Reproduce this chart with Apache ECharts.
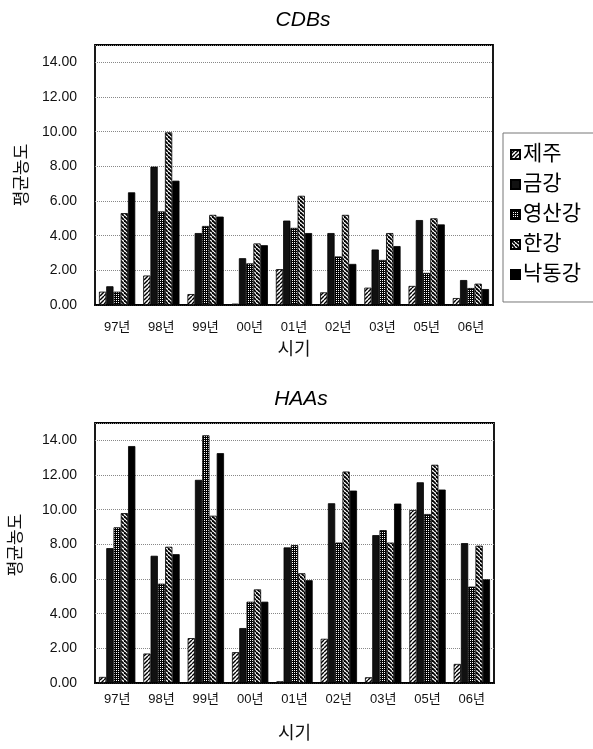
<!DOCTYPE html>
<html>
<head>
<meta charset="utf-8">
<script src="https://cdn.jsdelivr.net/npm/echarts@6/dist/echarts.min.js"></script>
<style>
html,body{margin:0;padding:0;background:#fff;}
#c{width:593px;height:749px;}
</style>
</head>
<body>
<div id="c"></div>
<script>
const categories = ['97년','98년','99년','00년','01년','02년','03년','05년','06년'];
const seriesNames = ['제주','금강','영산강','한강','낙동강'];
const yTicks = [0, 2, 4, 6, 8, 10, 12, 14];

const cdbJeju     = [0.77, 1.70, 0.63, 0.08, 2.07, 0.73, 1.00, 1.10, 0.40];
const cdbGeum     = [1.08, 7.98, 4.15, 2.70, 4.87, 4.15, 3.20, 4.90, 1.44];
const cdbYeongsan = [0.77, 5.40, 4.56, 2.40, 4.45, 2.80, 2.60, 1.85, 0.98];
const cdbHan      = [5.30, 9.96, 5.20, 3.55, 6.30, 5.20, 4.15, 5.00, 1.23];
const cdbNakdong  = [6.50, 7.17, 5.10, 3.45, 4.15, 2.37, 3.40, 4.65, 0.92];

const haaJeju     = [0.35, 1.70, 2.59, 1.78, 0.10, 2.55, 0.33, 9.98, 1.10];
const haaGeum     = [7.78, 7.34, 11.72, 3.17, 7.82, 10.37, 8.53, 11.58, 8.07];
const haaYeongsan = [8.98, 5.73, 14.29, 4.69, 7.95, 8.10, 8.82, 9.75, 5.56];
const haaHan      = [9.80, 7.86, 9.65, 5.40, 6.33, 12.20, 8.10, 12.59, 7.92];
const haaNakdong  = [13.67, 7.43, 13.26, 4.69, 5.93, 11.10, 10.35, 11.16, 5.98];

function mk(w, h, draw) {
  const c = document.createElement('canvas');
  c.width = w; c.height = h;
  const g = c.getContext('2d');
  draw(g);
  return { image: c, repeat: 'repeat' };
}
const patFwd = mk(4, 4, g => {
  g.fillStyle = '#fff'; g.fillRect(0, 0, 4, 4);
  g.strokeStyle = '#000'; g.lineWidth = 1.4;
  [-4, 0, 4].forEach(o => { g.beginPath(); g.moveTo(o, 4); g.lineTo(o + 4, 0); g.stroke(); });
});
const patBack = mk(4, 4, g => {
  g.fillStyle = '#fff'; g.fillRect(0, 0, 4, 4);
  g.strokeStyle = '#000'; g.lineWidth = 1.8;
  [-4, 0, 4].forEach(o => { g.beginPath(); g.moveTo(o, 0); g.lineTo(o + 4, 4); g.stroke(); });
});
const patDots = mk(2, 2, g => {
  g.fillStyle = '#000'; g.fillRect(0, 0, 2, 2);
  g.fillStyle = '#fff'; g.fillRect(0, 0, 1, 1);
});
const fills = [patFwd, '#111', patDots, patBack, '#000'];

const cdbData = [cdbJeju, cdbGeum, cdbYeongsan, cdbHan, cdbNakdong];
const haaData = [haaJeju, haaGeum, haaYeongsan, haaHan, haaNakdong];

const FONT = 'Liberation Sans, Arial, Noto Sans CJK KR, sans-serif';

function yAxis(gridIndex, nameGap, namePad) {
  return {
    type: 'value', gridIndex, min: 0, max: 15, interval: 2,
    name: '평균농도', nameLocation: 'middle', nameRotate: 90, nameGap,
    nameTextStyle: { fontSize: 17, color: '#111', fontFamily: FONT, padding: namePad },
    axisLine: { show: false }, axisTick: { show: false },
    axisLabel: {
      showMaxLabel: false, margin: 18, fontSize: 14, color: '#111', fontFamily: FONT,
      formatter: v => yTicks.indexOf(v) >= 0 ? v.toFixed(2) : ''
    },
    splitLine: { lineStyle: { color: '#888', type: 'dotted', width: 1 } }
  };
}
function xAxis(gridIndex, nameGap, margin) {
  return {
    type: 'category', gridIndex, data: categories,
    name: '시기', nameLocation: 'middle', nameGap,
    nameTextStyle: { fontSize: 18, color: '#111', fontFamily: FONT },
    axisLine: { lineStyle: { color: '#000', width: 1.5 } },
    axisTick: { show: false },
    axisLabel: { fontSize: 13, color: '#111', margin, fontFamily: FONT }
  };
}

const series = [];
[cdbData, haaData].forEach((set, gi) => {
  set.forEach((vals, i) => {
    series.push({
      name: seriesNames[i], type: 'bar', xAxisIndex: gi, yAxisIndex: gi,
      data: vals, barGap: '0%', barCategoryGap: '18%',
      itemStyle: { color: fills[i], borderColor: '#000', borderWidth: 0.8 },
      emphasis: { disabled: true }
    });
  });
});

const chart = echarts.init(document.getElementById('c'), null, { renderer: 'canvas' });
chart.setOption({
  backgroundColor: '#fff',
  animation: false,
  title: [
    { text: 'CDBs', left: 298, top: 5, textAlign: 'center',
      textStyle: { fontSize: 21, fontStyle: 'italic', fontWeight: 'normal', color: '#000', fontFamily: FONT } },
    { text: 'HAAs', left: 296, top: 384, textAlign: 'center',
      textStyle: { fontSize: 21, fontStyle: 'italic', fontWeight: 'normal', color: '#000', fontFamily: FONT } }
  ],
  legend: {
    data: seriesNames, orient: 'vertical', left: 503, top: 133,
    icon: 'rect', itemWidth: 9, itemHeight: 9, itemGap: 9,
    padding: [11, 20, 17, 7],
    borderColor: '#777', borderWidth: 1,
    textStyle: { fontSize: 21, color: '#000', fontFamily: FONT, padding: [0, 0, 0, -2] },
    selectedMode: false
  },
  grid: [
    { left: 95, top: 45, width: 398, height: 260, show: true, borderColor: '#000', borderWidth: 1.8, backgroundColor: '#fff' },
    { left: 94, top: 423, width: 400, height: 260, show: true, borderColor: '#000', borderWidth: 1.8, backgroundColor: '#fff' }
  ],
  xAxis: [xAxis(0, 36, 16), xAxis(1, 42, 10)],
  yAxis: [yAxis(0, 60, [0, 0, 0, 0]), yAxis(1, 70, [0, 0, 0, 16])],
  series
});
</script>
</body>
</html>
